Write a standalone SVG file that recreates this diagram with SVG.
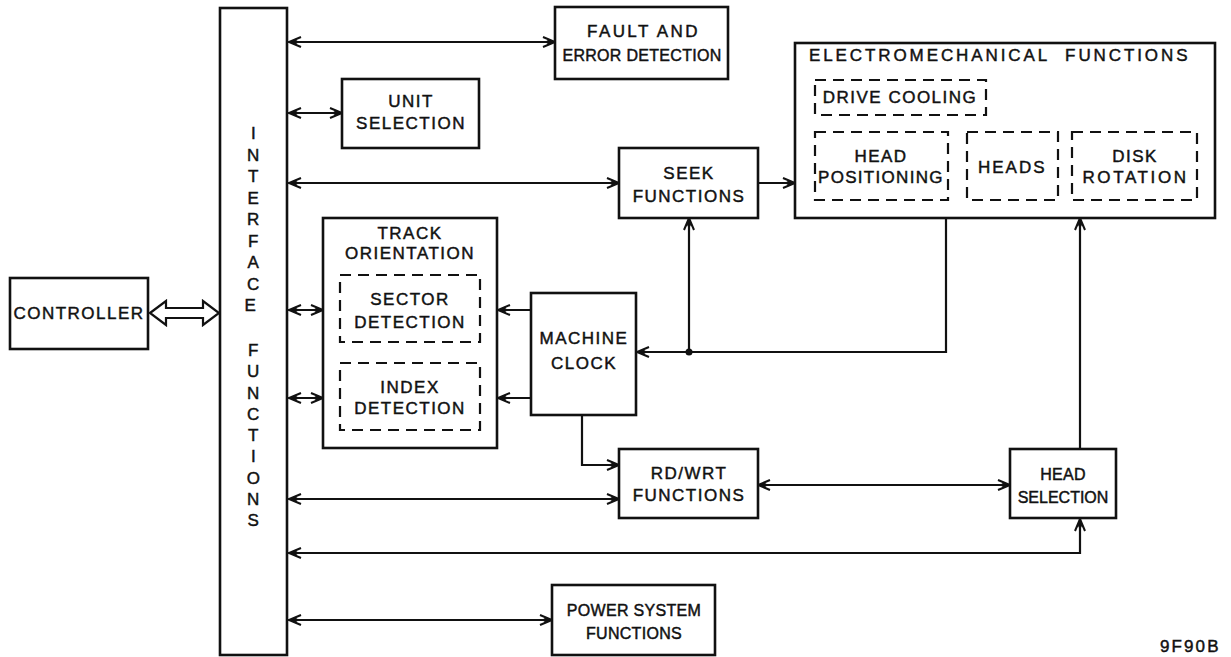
<svg xmlns="http://www.w3.org/2000/svg" width="1231" height="657" viewBox="0 0 1231 657">
<defs>
<style>
.box{fill:#fff;stroke:#111;stroke-width:2.6}
.dash{fill:none;stroke:#111;stroke-width:2.2;stroke-dasharray:11 7}
.t{font-family:"Liberation Sans",Arial,sans-serif;font-size:17px;letter-spacing:1.5px;fill:#111;stroke:#111;stroke-width:0.45;text-anchor:middle}
.s{font-size:16px;letter-spacing:0.3px}
.n{font-size:16px;letter-spacing:0}
.c{fill:none;stroke:#111;stroke-width:2.2}
.a{marker-end:url(#ah)}
.aa{marker-start:url(#ah);marker-end:url(#ah)}
</style>
<marker id="ah" markerUnits="userSpaceOnUse" viewBox="-14 -7 16 14" refX="0" refY="0" markerWidth="16" markerHeight="14" orient="auto-start-reverse">
<path d="M-12,-5 L0,0 L-12,5 M-8,-2.5 L0,0 L-8,2.5" fill="none" stroke="#111" stroke-width="2"/>
</marker>
</defs>
<rect width="1231" height="657" fill="#fff"/>

<g id="connectors">
<path class="c" d="M150,313 L166,301 L166,308 L203,308 L203,301 L219,313 L203,325 L203,318 L166,318 L166,325 Z"/>
<line class="c aa" x1="289" y1="42" x2="555" y2="42"/>
<line class="c aa" x1="289" y1="113" x2="342" y2="113"/>
<line class="c aa" x1="289" y1="183" x2="619" y2="183"/>
<line class="c a" x1="758" y1="183" x2="795" y2="183"/>
<line class="c aa" x1="289" y1="310" x2="323" y2="310"/>
<line class="c aa" x1="289" y1="398" x2="323" y2="398"/>
<line class="c a" x1="531" y1="310" x2="498" y2="310"/>
<line class="c a" x1="531" y1="398" x2="498" y2="398"/>
<polyline class="c a" points="946,218 946,352 637,352"/>
<line class="c a" x1="689" y1="352" x2="689" y2="218"/>
<circle cx="689" cy="352" r="3.5" fill="#111"/>
<polyline class="c a" points="582,415 582,465 619,465"/>
<line class="c aa" x1="289" y1="499" x2="619" y2="499"/>
<line class="c aa" x1="758" y1="485" x2="1010" y2="485"/>
<line class="c a" x1="1080" y1="449" x2="1080" y2="218"/>
<polyline class="c aa" points="289,553 1080,553 1080,519"/>
<line class="c aa" x1="289" y1="620" x2="552" y2="620"/>
</g>

<g id="controller">
<rect class="box" x="10" y="278" width="138" height="71"/>
<text class="t" x="79" y="319">CONTROLLER</text>
</g>

<g id="interface">
<rect class="box" x="220" y="8" width="67" height="647"/>
<text class="t" x="254" letter-spacing="0">
<tspan x="254" y="139">I</tspan><tspan x="254" y="160.5">N</tspan><tspan x="254" y="182">T</tspan><tspan x="254" y="203.5">E</tspan><tspan x="254" y="225">R</tspan><tspan x="254" y="246.5">F</tspan><tspan x="254" y="268">A</tspan><tspan x="254" y="289.5">C</tspan><tspan x="254" y="311">E</tspan>
<tspan x="254" y="356">F</tspan><tspan x="254" y="377">U</tspan><tspan x="254" y="398.5">N</tspan><tspan x="254" y="420">C</tspan><tspan x="254" y="441">T</tspan><tspan x="254" y="462">I</tspan><tspan x="254" y="483.5">O</tspan><tspan x="254" y="505">N</tspan><tspan x="254" y="526">S</tspan>
</text>
</g>

<g id="fault">
<rect class="box" x="555" y="7" width="173" height="72"/>
<text class="t" x="643" y="37" textLength="112">FAULT AND</text>
<text class="t s" x="642" y="61">ERROR DETECTION</text>
</g>

<g id="unit-selection">
<rect class="box" x="342" y="79" width="137" height="69"/>
<text class="t" x="411" y="107">UNIT</text>
<text class="t" x="411" y="129">SELECTION</text>
</g>

<g id="seek">
<rect class="box" x="619" y="148" width="139" height="70"/>
<text class="t" x="689" y="179">SEEK</text>
<text class="t" x="689" y="202">FUNCTIONS</text>
</g>

<g id="electromechanical">
<rect class="box" x="795" y="43" width="420" height="175"/>
<text class="t" x="999" y="61" word-spacing="8" textLength="380">ELECTROMECHANICAL FUNCTIONS</text>
<g id="drive-cooling">
<rect class="dash" x="815" y="80" width="171" height="35"/>
<text class="t" x="900" y="103">DRIVE COOLING</text>
</g>
<g id="head-positioning">
<rect class="dash" x="815" y="132" width="133" height="68"/>
<text class="t" x="881" y="162">HEAD</text>
<text class="t" x="881" y="183" textLength="126">POSITIONING</text>
</g>
<g id="heads">
<rect class="dash" x="967" y="132" width="91" height="68"/>
<text class="t" x="1012" y="173" textLength="68">HEADS</text>
</g>
<g id="disk-rotation">
<rect class="dash" x="1072" y="132" width="125" height="68"/>
<text class="t" x="1135" y="162">DISK</text>
<text class="t" x="1135" y="183" textLength="105">ROTATION</text>
</g>
</g>

<g id="track-orientation">
<rect class="box" x="323" y="218" width="174" height="230"/>
<text class="t" x="410" y="239">TRACK</text>
<text class="t" x="410" y="259">ORIENTATION</text>
<g id="sector-detection">
<rect class="dash" x="340" y="275" width="140" height="67"/>
<text class="t" x="410" y="305">SECTOR</text>
<text class="t" x="410" y="328">DETECTION</text>
</g>
<g id="index-detection">
<rect class="dash" x="340" y="363" width="140" height="67"/>
<text class="t" x="410" y="393">INDEX</text>
<text class="t" x="410" y="414">DETECTION</text>
</g>
</g>

<g id="machine-clock">
<rect class="box" x="531" y="293" width="105" height="122"/>
<text class="t" x="584" y="344">MACHINE</text>
<text class="t" x="584" y="369">CLOCK</text>
</g>

<g id="rd-wrt">
<rect class="box" x="619" y="449" width="139" height="69"/>
<text class="t" x="689" y="479">RD/WRT</text>
<text class="t" x="689" y="501">FUNCTIONS</text>
</g>

<g id="head-selection">
<rect class="box" x="1010" y="449" width="106" height="69"/>
<text class="t s" x="1063" y="480">HEAD</text>
<text class="t n" x="1063" y="503">SELECTION</text>
</g>

<g id="power">
<rect class="box" x="552" y="585" width="163" height="70"/>
<text class="t s" x="634" y="616">POWER SYSTEM</text>
<text class="t s" x="634" y="639">FUNCTIONS</text>
</g>

<text class="t" x="1190" y="652" font-size="18" textLength="60">9F90B</text>
</svg>
